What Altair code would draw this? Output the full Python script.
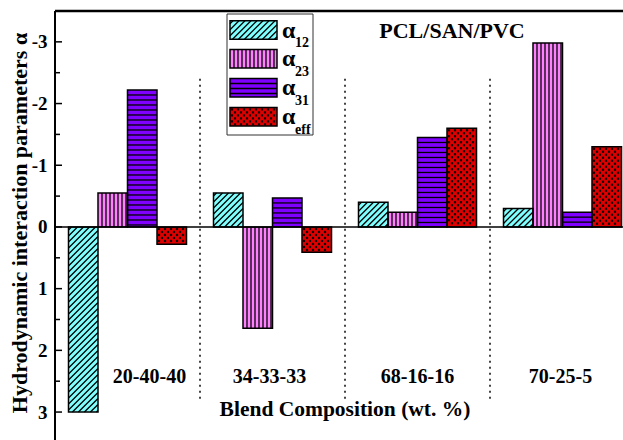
import altair as alt
import pandas as pd

# ---------------- data ----------------
compositions = ["20-40-40", "34-33-33", "68-16-16", "70-25-5"]
series_names = ["α12", "α23", "α31", "αeff"]
alpha_12 = [3.00, -0.55, -0.40, -0.30]
alpha_23 = [-0.55, 1.64, -0.24, -2.98]
alpha_31 = [-2.22, -0.47, -1.45, -0.24]
alpha_eff = [0.28, 0.41, -1.60, -1.30]
y_tick_values = [-3, -2, -1, 0, 1, 2, 3]
minor_tick_values = [-2.5, -1.5, -0.5, 0.5, 1.5, 2.5]
legend_subscripts = ["12", "23", "31", "eff"]
separator_span = [-2.4, 2.8]
title_text = "PCL/SAN/PVC"
x_title = "Blend Composition (wt. %)"
y_title = "Hydrodynamic interaction parameters α"

# ---------------- layout / style ----------------
W, H = 568, 429
PAD_L, PAD_T = 55, 11
PX_X = 145.0          # pixels per composition slot
PX_Y = 61.7           # pixels per unit of alpha
Y_MIN = -3.5
X_MAX = W / PX_X
Y_MAX = Y_MIN + H / PX_Y
BAR_PX = 29.5
BAR_W = BAR_PX / PX_X
FONT = "Liberation Serif"

fill_colors = ["#80FFFF", "#FF80FF", "#8000FF", "#E00000"]
hatch_kind = ["diag", "vert", "horiz", "dots"]


def px_x(v):
    return v * PX_X


def px_y(v):
    return (v - Y_MIN) * PX_Y


def dx(p):
    return p / PX_X


def dy(p):
    return p / PX_Y + Y_MIN


def hatch(kind, x0, x1, y0, y1):
    """Pattern primitives inside a pixel rectangle -> (segments, dots)."""
    segs, dots = [], []
    if kind == "diag":
        step = 6.0
        c = x0 + y0 + step * 0.5
        while c < x1 + y1:
            xa = max(x0, c - y1)
            xb = min(x1, c - y0)
            if xb - xa > 0.3:
                segs.append((xa, c - xa, xb, c - xb))
            c += step
    elif kind == "vert":
        step = 4.0
        x = x0 + step
        while x < x1 - 1.0:
            segs.append((x, y0, x, y1))
            x += step
    elif kind == "horiz":
        step = 5.0
        y = y0 + step
        while y < y1 - 1.0:
            segs.append((x0, y, x1, y))
            y += step
    elif kind == "dots":
        row_step, col_step = 3.0, 6.0
        r = 0
        y = y0 + 2.0
        while y < y1 - 1.0:
            x = x0 + 2.0 + (col_step / 2 if r % 2 else 0.0)
            while x < x1 - 1.0:
                dots.append((x, y))
                x += col_step
            y += row_step
            r += 1
    return segs, dots


rects, segs_rows, dot_rows = [], [], []


def add_rect(name, kind, x0p, x1p, y0p, y1p):
    rects.append({"series": name, "x": dx(x0p), "x2": dx(x1p), "y": dy(y0p), "y2": dy(y1p)})
    s, d = hatch(kind, x0p, x1p, y0p, y1p)
    for (a, b, c, e) in s:
        segs_rows.append({"x": dx(a), "y": dy(b), "x2": dx(c), "y2": dy(e)})
    for (a, b) in d:
        dot_rows.append({"x": dx(a), "y": dy(b)})


# bars
all_values = [alpha_12, alpha_23, alpha_31, alpha_eff]
for g in range(len(compositions)):
    for i, name in enumerate(series_names):
        v = all_values[i][g]
        x0 = g + 0.5 + (i - 2) * BAR_W
        add_rect(name, hatch_kind[i], px_x(x0), px_x(x0 + BAR_W),
                 px_y(min(0.0, v)), px_y(max(0.0, v)))

# legend swatches (pixel layout inside the plot)
LEG_BOX = (172, 258, 3, 124)
SW_X0, SW_X1, SW_TOP, SW_H, ROW = 175, 222, 9.7, 18.5, 28.9
for r, name in enumerate(series_names):
    top = SW_TOP + r * ROW
    add_rect(name, hatch_kind[r], SW_X0, SW_X1, top, top + SW_H)

rect_df = pd.DataFrame(rects)
seg_df = pd.DataFrame(segs_rows)
dot_df = pd.DataFrame(dot_rows)

legend_box_df = pd.DataFrame([{"x": dx(LEG_BOX[0]), "x2": dx(LEG_BOX[1]),
                               "y": dy(LEG_BOX[2]), "y2": dy(LEG_BOX[3])}])
legend_alpha_df = pd.DataFrame([{"t": "α", "x": dx(227), "y": dy(26.5 + r * ROW)}
                                for r in range(len(series_names))])
legend_sub_df = pd.DataFrame([{"t": s, "x": dx(240), "y": dy(36 + r * ROW)}
                              for r, s in enumerate(legend_subscripts)])

label_shift_px = [22, -3, 0, -2]
group_label_df = pd.DataFrame([{"t": c, "x": g + 0.5 + dx(label_shift_px[g]), "y": dy(366)}
                               for g, c in enumerate(compositions)])
sep_df = pd.DataFrame([{"x": float(k), "y": separator_span[0], "y2": separator_span[1]}
                       for k in range(1, len(compositions))])
major_df = pd.DataFrame({"v": y_tick_values})
minor_df = pd.DataFrame({"v": minor_tick_values})
zero_df = pd.DataFrame([{"x": 0.0, "x2": X_MAX, "y": 0.0}])

# ---------------- scales / axes ----------------
xs = alt.Scale(domain=[0, X_MAX], nice=False, zero=False)
ys = alt.Scale(domain=[Y_MIN, Y_MAX], nice=False, zero=False, reverse=True)
y_axis = alt.Axis(values=y_tick_values, title=None, grid=False, domain=False, ticks=False,
                  labelFont=FONT, labelFontWeight="bold", labelFontSize=19, labelColor="black",
                  labelPadding=8,
                  labelExpr="datum.value < 0 ? '-' + abs(datum.value) : '' + datum.value")


def X(f="x"):
    return alt.X(f"{f}:Q", scale=xs, axis=None)


def Y(f="y"):
    return alt.Y(f"{f}:Q", scale=ys, axis=y_axis)


color = alt.Color("series:N", scale=alt.Scale(domain=series_names, range=fill_colors), legend=None)

legend_box = alt.Chart(legend_box_df).mark_rect(fill="white", stroke="#333333", strokeWidth=1).encode(
    x=X(), x2="x2:Q", y=Y(), y2="y2:Q")

fills = alt.Chart(rect_df).mark_rect().encode(x=X(), x2="x2:Q", y=Y(), y2="y2:Q", color=color)

hatch_lines = alt.Chart(seg_df).mark_rule(color="black", strokeWidth=1.3).encode(
    x=X(), x2="x2:Q", y=Y(), y2="y2:Q")

hatch_dots = alt.Chart(dot_df).mark_square(color="#1a0000", size=5, opacity=1).encode(x=X(), y=Y())

outlines = alt.Chart(rect_df).mark_rect(fillOpacity=0, stroke="black", strokeWidth=1.5).encode(
    x=X(), x2="x2:Q", y=Y(), y2="y2:Q")

zero_line = alt.Chart(zero_df).mark_rule(color="black", strokeWidth=1.5).encode(
    x=X(), x2="x2:Q", y=Y())

separators = alt.Chart(sep_df).mark_rule(color="#444444", strokeWidth=2, strokeDash=[2, 4]).encode(
    x=X(), y=Y(), y2="y2:Q")

major_ticks = alt.Chart(major_df).mark_rule(color="black", strokeWidth=1.5).encode(
    x=alt.value(0), x2=alt.value(7), y=Y("v"))
minor_ticks = alt.Chart(minor_df).mark_rule(color="black", strokeWidth=1.5).encode(
    x=alt.value(0), x2=alt.value(5), y=Y("v"))

frame_top = alt.Chart(zero_df).mark_rule(color="black", strokeWidth=2.5).encode(
    x=alt.value(0), x2=alt.value(W), y=alt.value(0))
frame_left = alt.Chart(zero_df).mark_rule(color="black", strokeWidth=2).encode(
    x=alt.value(0), y=alt.value(0), y2=alt.value(H))

txt = dict(font=FONT, fontWeight="bold", color="black")

legend_alpha = alt.Chart(legend_alpha_df).mark_text(align="left", baseline="alphabetic",
                                                    fontSize=24, **txt).encode(
    x=X(), y=Y(), text="t:N")
legend_sub = alt.Chart(legend_sub_df).mark_text(align="left", baseline="alphabetic",
                                                fontSize=14, **txt).encode(
    x=X(), y=Y(), text="t:N")
group_labels = alt.Chart(group_label_df).mark_text(align="center", baseline="middle",
                                                   fontSize=20, **txt).encode(
    x=X(), y=Y(), text="t:N")

title_mark = alt.Chart(zero_df).mark_text(text=title_text, align="center", baseline="middle",
                                          fontSize=22, **txt).encode(
    x=alt.value(397), y=alt.value(19.5))
x_title_mark = alt.Chart(zero_df).mark_text(text=x_title, align="center", baseline="middle",
                                            fontSize=21.5, **txt).encode(
    x=alt.value(290), y=alt.value(399))
y_title_mark = alt.Chart(zero_df).mark_text(text=y_title, align="center", baseline="middle",
                                            angle=270, fontSize=22, **txt).encode(
    x=alt.value(-35.5), y=alt.value(212))

chart = alt.layer(
    legend_box, fills, hatch_lines, hatch_dots, outlines, zero_line, separators,
    major_ticks, minor_ticks, frame_top, frame_left,
    legend_alpha, legend_sub, group_labels, title_mark, x_title_mark, y_title_mark,
).properties(
    width=W, height=H,
    autosize=alt.AutoSizeParams(type="none"),
    padding={"left": PAD_L, "top": PAD_T, "right": 0, "bottom": 0},
    background="white",
).configure_view(stroke=None)

chart.save("out.html", embed_options={"renderer": "svg", "actions": False})
